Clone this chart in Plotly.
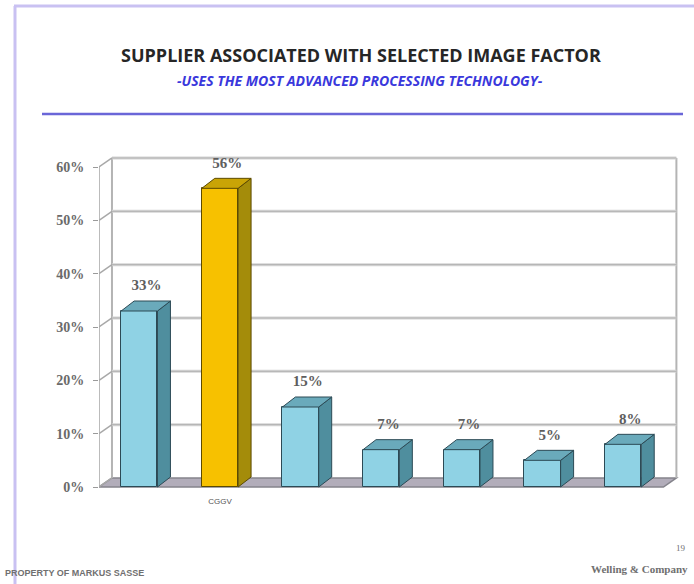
import plotly.graph_objects as go

# ---- data -------------------------------------------------------------
suppliers = ["", "CGGV", "", "", "", "", ""]
shares = [33, 56, 15, 7, 7, 5, 8]
share_labels = ["33%", "56%", "15%", "7%", "7%", "5%", "8%"]
highlight = "CGGV"
y_ticks = [0, 10, 20, 30, 40, 50, 60]
y_tick_text = ["0%", "10%", "20%", "30%", "40%", "50%", "60%"]

# ---- page geometry ----------------------------------------------------
W, H = 694, 584
ML, MR, MT, MB = 99, 8, 151, 89
PW, PH = W - ML - MR, H - MT - MB
X_RANGE = [-0.5, 6.78]
Y_RANGE = [-1.5, 63]


def px(xp):
    return (xp - ML) / PW


def py(yp):
    return (H - MB - yp) / PH


# depth offsets of the pseudo-3D box (data units)
DXW, DYW = 0.161, 1.69      # walls
DXB, DYB = 0.161, 1.875     # bars
BW = 0.45

x = list(range(len(shares)))

blue_front, blue_side, blue_top, blue_edge = "#8fd2e4", "#4f8e9e", "#6aaabb", "#2c4a55"
gold_front, gold_side, gold_top, gold_edge = "#f7c100", "#a48c0a", "#c9a406", "#5c4a00"

front_cols = [gold_front if s == highlight else blue_front for s in suppliers]
side_cols = [gold_side if s == highlight else blue_side for s in suppliers]
top_cols = [gold_top if s == highlight else blue_top for s in suppliers]
edge_cols = [gold_edge if s == highlight else blue_edge for s in suppliers]

fig = go.Figure()

# front faces of the bars
fig.add_trace(go.Bar(
    x=x, y=shares, width=BW, base=0,
    marker=dict(color=front_cols, line=dict(color=edge_cols, width=1)),
    hoverinfo="skip", showlegend=False,
))

# side and top faces
for xi, v, sc, tc, ec in zip(x, shares, side_cols, top_cols, edge_cols):
    r = xi + BW / 2
    l = xi - BW / 2
    fig.add_trace(go.Scatter(
        x=[r, r + DXB, r + DXB, r, r], y=[0, DYB, v + DYB, v, 0],
        mode="lines", fill="toself", fillcolor=sc,
        line=dict(color=ec, width=1), hoverinfo="skip", showlegend=False))
    fig.add_trace(go.Scatter(
        x=[l, r, r + DXB, l + DXB, l], y=[v, v, v + DYB, v + DYB, v],
        mode="lines", fill="toself", fillcolor=tc,
        line=dict(color=ec, width=1), hoverinfo="skip", showlegend=False))

# value labels above the bars
fig.add_trace(go.Scatter(
    x=[xi + 0.09 for xi in x], y=[v + 4.6 for v in shares],
    mode="text", text=[f"<b>{s}</b>" for s in share_labels],
    textposition="middle center",
    textfont=dict(family="Liberation Serif", size=15, color="#5e5e5e"),
    hoverinfo="skip", showlegend=False))

shapes = []
x0, x1 = -0.5, 6.5
top = y_ticks[-1]

# floor
shapes.append(dict(type="path", xref="x", yref="y", layer="below",
                   path=f"M{x0},0 L{x1},0 L{x1 + DXW},{DYW} L{x0 + DXW},{DYW} Z",
                   fillcolor="#b2adba", line=dict(color="#85848c", width=1.5)))
# back wall outline
shapes.append(dict(type="line", xref="x", yref="y", layer="below",
                   x0=x0 + DXW, x1=x0 + DXW, y0=DYW, y1=top + DYW,
                   line=dict(color="#b4b4b4", width=2)))
shapes.append(dict(type="line", xref="x", yref="y", layer="below",
                   x0=x1 + DXW, x1=x1 + DXW, y0=DYW, y1=top + DYW,
                   line=dict(color="#b4b4b4", width=2)))
# front vertical axis line
shapes.append(dict(type="line", xref="x", yref="y", layer="below",
                   x0=x0, x1=x0, y0=0, y1=top,
                   line=dict(color="#a4a4a4", width=1.5)))
# gridlines on back and side walls
for t in y_ticks[1:]:
    shapes.append(dict(type="line", xref="x", yref="y", layer="below",
                       x0=x0 + DXW, x1=x1 + DXW, y0=t + DYW, y1=t + DYW,
                       line=dict(color="#d4d4d4", width=3)))
    shapes.append(dict(type="line", xref="x", yref="y", layer="below",
                       x0=x0 + DXW, x1=x1 + DXW, y0=t + DYW, y1=t + DYW,
                       line=dict(color="#b2b2b2", width=1)))
    shapes.append(dict(type="line", xref="x", yref="y", layer="below",
                       x0=x0, x1=x0 + DXW, y0=t, y1=t + DYW,
                       line=dict(color="#a8a8a8", width=1.5)))
shapes.append(dict(type="line", xref="x", yref="y", layer="below",
                   x0=x0, x1=x0 + DXW, y0=0, y1=DYW,
                   line=dict(color="#a8a8a8", width=1.5)))

# page frame and header rule
shapes.append(dict(type="line", xref="paper", yref="paper",
                   x0=px(15), x1=px(15), y0=py(6), y1=py(584),
                   line=dict(color="#c9c1f2", width=3)))
shapes.append(dict(type="line", xref="paper", yref="paper",
                   x0=px(14), x1=px(694), y0=py(6), y1=py(6),
                   line=dict(color="#c9c1f2", width=3)))
shapes.append(dict(type="line", xref="paper", yref="paper",
                   x0=px(42), x1=px(683), y0=py(114), y1=py(114),
                   line=dict(color="#6a66d8", width=2.5)))

annotations = [
    dict(text="<b>SUPPLIER ASSOCIATED WITH SELECTED IMAGE FACTOR</b>",
         x=px(361), y=py(55), xref="paper", yref="paper", showarrow=False,
         xanchor="center", yanchor="middle",
         font=dict(family="Open Sans", size=18, color="#262626")),
    dict(text="<b><i>-USES THE MOST ADVANCED PROCESSING TECHNOLOGY-</i></b>",
         x=px(360), y=py(80), xref="paper", yref="paper", showarrow=False,
         xanchor="center", yanchor="middle",
         font=dict(family="Open Sans", size=14, color="#3a38dc")),
    dict(text="<b>PROPERTY OF MARKUS SASSE</b>",
         x=px(3), y=py(573), xref="paper", yref="paper", showarrow=False,
         xanchor="left", yanchor="middle",
         font=dict(family="Liberation Sans", size=9, color="#707070")),
    dict(text="19",
         x=px(688), y=py(548), xref="paper", yref="paper", showarrow=False,
         xanchor="right", yanchor="middle",
         font=dict(family="Liberation Serif", size=9, color="#707070")),
    dict(text="<b>Welling &amp; Company</b>",
         x=px(690), y=py(569), xref="paper", yref="paper", showarrow=False,
         xanchor="right", yanchor="middle",
         font=dict(family="Liberation Serif", size=11, color="#707070")),
]

fig.update_layout(
    width=W, height=H,
    margin=dict(l=ML, r=MR, t=MT, b=MB, pad=0),
    paper_bgcolor="white", plot_bgcolor="white",
    shapes=shapes, annotations=annotations,
    showlegend=False, bargap=0,
    xaxis=dict(range=X_RANGE, showgrid=False, zeroline=False, showline=False,
               tickvals=x, ticktext=suppliers, ticks="",
               tickfont=dict(family="Liberation Sans", size=8, color="#555"),
               fixedrange=True),
    yaxis=dict(range=Y_RANGE, showgrid=False, zeroline=False, showline=False,
               tickvals=y_ticks, ticktext=[f"<b>{t}</b>" for t in y_tick_text],
               ticks="outside", ticklen=5, tickcolor="#9a9a9a",
               ticklabelstandoff=6,
               tickfont=dict(family="Liberation Serif", size=14, color="#6a6a6a"),
               fixedrange=True),
)

fig.write_html("out.html")
